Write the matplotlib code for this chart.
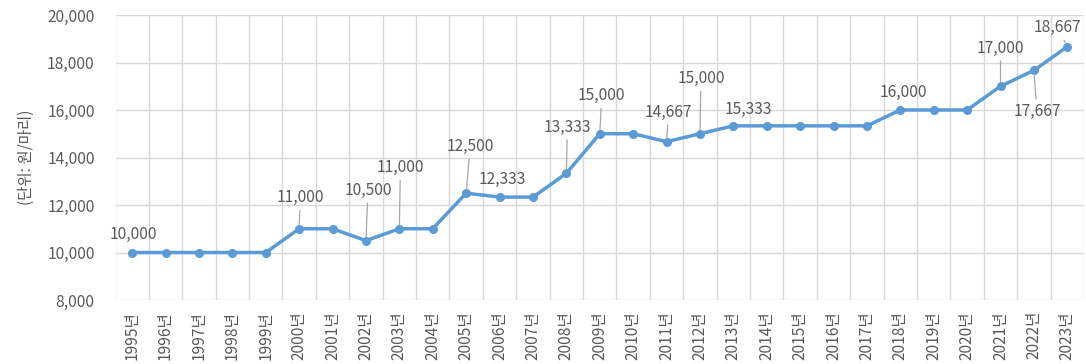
import matplotlib
matplotlib.use("Agg")
import matplotlib.pyplot as plt
from matplotlib.ticker import FuncFormatter, MultipleLocator

plt.rcParams['font.family'] = ['Noto Sans CJK KR', 'DejaVu Sans']

# data
years = list(range(1995, 2024))
year_labels = [f"{y}년" for y in years]
prices = [10000, 10000, 10000, 10000, 10000,
          11000, 11000, 10500, 11000, 11000,
          12500, 12333, 12333, 13333, 15000,
          15000, 14667, 15000, 15333, 15333,
          15333, 15333, 15333, 16000, 16000,
          16000, 17000, 17667, 18667]

# which points get a data label: year -> (dx, dy) offset in pixels, leader line?
label_pos = {
    1995: (1, 18, False),
    2000: (1, 31, True),
    2002: (2, 50, True),
    2003: (1, 61, True),
    2005: (4, 47, True),
    2006: (3, 18, False),
    2008: (1, 46, True),
    2009: (2, 38, True),
    2011: (2, 29, True),
    2012: (1, 55, True),
    2013: (15, 16, False),
    2018: (3, 18, False),
    2021: (0, 38, True),
    2022: (3, -41, True),
    2023: (-10, 19, True),
}

text_color = '#595959'
line_color = '#5B9BD5'
grid_color = '#D9D9D9'
fs = 11.2

fig = plt.figure(figsize=(10.86, 3.64), dpi=100)
ax = fig.add_axes([115.5 / 1086, 64 / 364, 968.5 / 1086, 285 / 364])

x = list(range(len(years)))
ax.plot(x, prices, color=line_color, lw=2.5, marker='o', markersize=5.5, zorder=3)

ax.set_xlim(-0.5, len(years) - 0.5)
ax.set_ylim(8000, 20000)
ax.yaxis.set_major_locator(MultipleLocator(2000))
ax.yaxis.set_major_formatter(FuncFormatter(lambda v, p: f"{v:,.0f}"))
ax.set_xticks(x)
ax.set_xticklabels(year_labels, rotation=90)
ax.set_xticks([i - 0.5 for i in range(len(years) + 1)], minor=True)

ax.grid(False)
ax.yaxis.grid(True, color=grid_color, lw=1)
ax.xaxis.grid(True, which='minor', color=grid_color, lw=1)
for s in ax.spines.values():
    s.set_visible(False)
ax.tick_params(axis='both', which='both', length=0, colors=text_color, labelsize=fs)
ax.tick_params(axis='y', pad=15)
ax.tick_params(axis='x', pad=8)

ax.set_ylabel("(단위: 원/마리)", color=text_color, fontsize=fs)
ax.yaxis.set_label_coords(-81 / 968.5, 0.5)

px = 0.72  # pixel -> points at 100 dpi
for i, (yr, v) in enumerate(zip(years, prices)):
    if yr not in label_pos:
        continue
    dx, dy, leader = label_pos[yr]
    kw = {}
    if leader:
        kw['arrowprops'] = dict(arrowstyle='-', color='#A6A6A6', lw=0.9,
                                shrinkA=1, shrinkB=3)
    ax.annotate(f"{v:,}", xy=(i, v), xytext=(dx * px, dy * px),
                textcoords='offset points', ha='center', va='center',
                color=text_color, fontsize=fs, zorder=4, **kw)

fig.savefig("out.png", dpi=100)
